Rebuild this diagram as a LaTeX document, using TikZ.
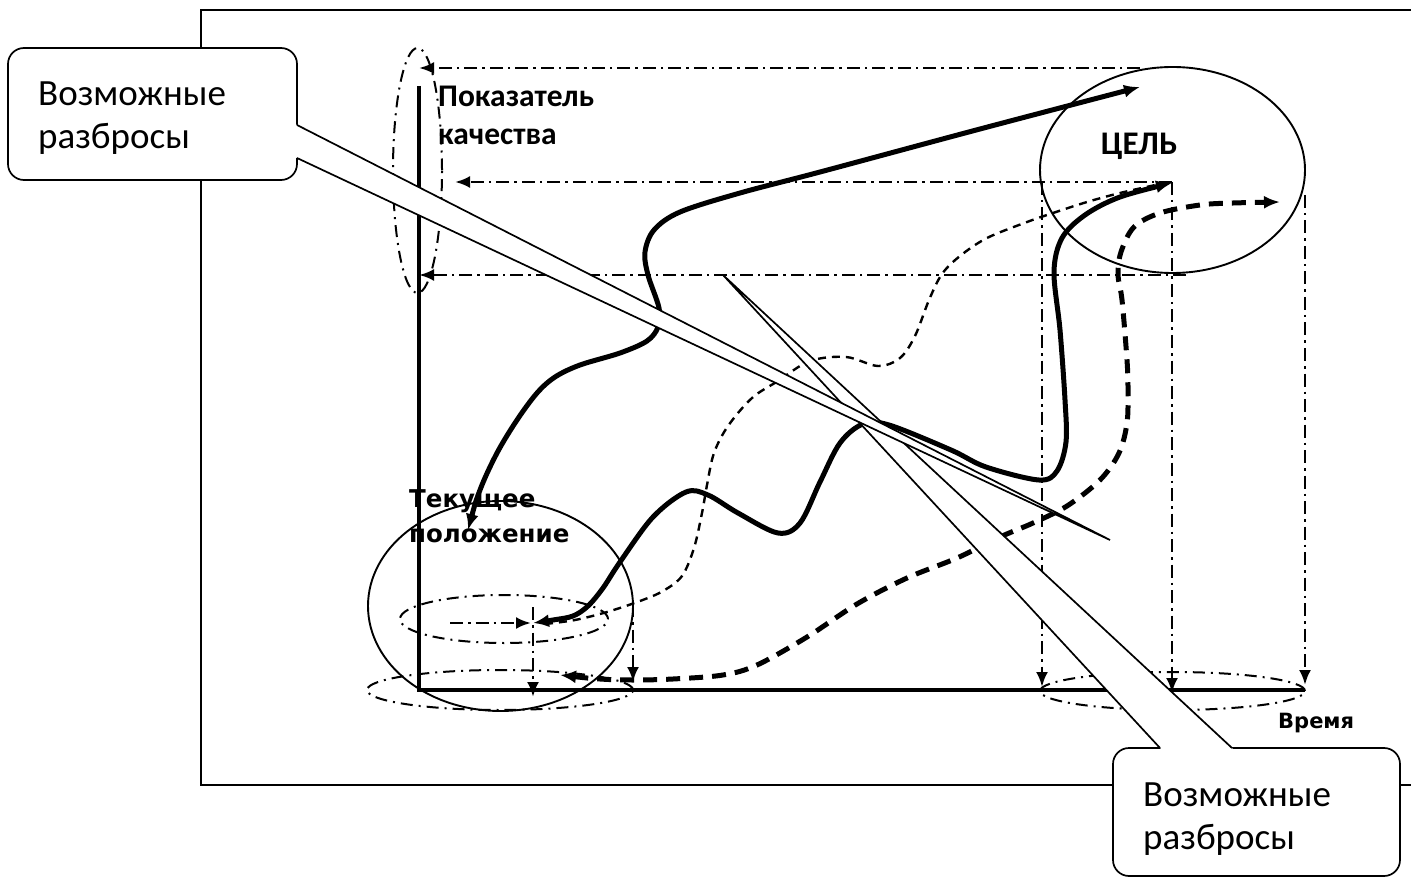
\documentclass[tikz,border=0pt]{standalone}
\usepackage{fontspec}
\newfontfamily\carl{Carlito}
\newfontfamily\djv{DejaVu Sans}
\usetikzlibrary{arrows.meta}
\tikzset{
 frameline/.style={line width=1.6pt},
 axisline/.style={line width=4.6pt},
 ddl/.style={line width=2.8pt, dash pattern=on 13pt off 5pt on 2.5pt off 5pt},
 dde/.style={line width=2pt, dash pattern=on 12pt off 6pt on 2pt off 6pt},
 ell/.style={line width=1.9pt},
 tipend/.style={-{Latex[length=15pt,width=12pt]}},
 tipboth/.style={{Latex[length=16pt,width=13pt]}-{Latex[length=16pt,width=13pt]}},
 thk/.style={line width=5pt},
 thkd/.style={line width=5pt, dash pattern=on 14pt off 9pt},
 thnd/.style={line width=2.4pt, dash pattern=on 8pt off 6pt},
 callout/.style={line width=1.7pt},
 lblb/.style={anchor=base west, inner sep=0pt, font=\carl\bfseries\fontsize{31.5pt}{36pt}\selectfont},
 lblc/.style={anchor=base west, inner sep=0pt, font=\djv\bfseries\fontsize{24.5pt}{30pt}\selectfont},
 lblr/.style={anchor=base west, inner sep=0pt, font=\carl\fontsize{37pt}{44pt}\selectfont},
}
\begin{document}
\begin{tikzpicture}[x=1pt,y=-1pt]
\useasboundingbox (0,0) rectangle (1411,877);
% frame
\draw[frameline] (1412,10) -- (201,10) -- (201,785) -- (1412,785);
% axes
\coordinate (O) at (419,690);
\coordinate (Ytop) at (419,86);
\coordinate (Xend) at (1305,690);
\draw[axisline] (Ytop) -- (O) -- (Xend);
% dash-dot ellipses
\draw[dde] (417.5,170.5) ellipse [x radius=24.5pt, y radius=122.5pt];
\draw[dde] (504,619) ellipse [x radius=104pt, y radius=24pt];
\draw[dde] (500,690) ellipse [x radius=133pt, y radius=20pt];
\draw[dde] (1172.5,691) ellipse [x radius=132.5pt, y radius=19pt];
% dash-dot projection lines
\coordinate (h1r) at (1140,68);  \coordinate (h1l) at (419,68);
\coordinate (h2r) at (1172,182); \coordinate (h2l) at (455,182);
\coordinate (h3r) at (1186,275); \coordinate (h3l) at (419,275);
\draw[ddl,tipend] (h1r) -- (h1l);
\draw[ddl,tipend] (h2r) -- (h2l);
\draw[ddl,tipend] (h3r) -- (h3l);
\draw[ddl,tipend] (1042,182) -- (1042,687);
\draw[ddl,tipend] (h2r) -- (1172,693);
\draw[ddl,tipend] (1305,195) -- (1305,685);
\draw[ddl,tipend] (450,623) -- (531,623);
\draw[ddl,tipend] (533,607) -- (533,697);
\draw[ddl,tipend] (633,604) -- (633,682);
% curves
\draw[thk,tipboth] plot[smooth, tension=0.55] coordinates {(468,530) (480,490) (497,453) (517,420) (537,393) (555,377) (580,365) (620,353) (647,341) (658,327) (659,308) (648,275) (645,252) (654,230) (680,212) (740,193) (820,172) (980,129) (1140,87)};
\draw[thnd] plot[smooth, tension=0.55] coordinates {(545,624) (575,620) (607,612) (640,601) (663,591) (682,576) (694,548) (702,513) (707,485) (714,453) (728,426) (752,398) (778,381) (810,361) (846,357) (878,366) (900,358) (915,336) (929,300) (942,274) (960,256) (987,238) (1027,222) (1053,213) (1087,202) (1120,193) (1160,184)};
\draw[thkd,tipboth] plot[smooth, tension=0.55] coordinates {(560,675) (600,679) (633,680) (673,679) (723,675) (757,665) (807,637) (857,604) (907,578) (957,558) (1000,537) (1033,523) (1067,506) (1100,480) (1119,453) (1127,423) (1128,390) (1127,360) (1122,300) (1118,275) (1121,252) (1134,227) (1160,213) (1200,205) (1233,203) (1280,202)};
\draw[thk,tipboth] plot[smooth, tension=0.55] coordinates {(533,623) (553,620) (573,616) (588,606) (603,588) (620,562) (653,517) (686,492) (708,495) (738,513) (778,533) (800,523) (820,482) (840,443) (863,424) (889,425) (951,450) (986,467) (1039,480) (1057,471) (1066,442) (1065,400) (1060,330) (1054,272) (1062,238) (1085,215) (1120,197) (1172,183)};
% solid ellipses
\draw[ell] (500.5,606) ellipse [x radius=132.5pt, y radius=105pt];
\draw[ell] (1172.5,170) ellipse [x radius=132.5pt, y radius=103pt];
% labels
\node[lblb] (pk1) at (438,107) {Показатель};
\node[lblb] (pk2) at (438,145) {качества};
\node[lblb, anchor=base, font=\carl\bfseries\fontsize{33pt}{38pt}\selectfont] (goal) at (1139,155) {ЦЕЛЬ};
\node[lblc] (cur1) at (409,507) {Текущее};
\node[lblc] (cur2) at (409,542) {положение};
\node[lblc, font=\djv\bfseries\fontsize{21pt}{26pt}\selectfont] (time) at (1278,728) {Время};
% bottom callout
\draw[callout, fill=white, rounded corners=16pt] (1113,748) rectangle (1400,876);
\fill[white] (1161.9,750) -- (723,275) -- (1234,750) -- cycle;
\draw[callout] (1160,748) -- (723,275) -- (1232,748);
\node[lblr] (cb1) at (1143,806) {Возможные};
\node[lblr] (cb2) at (1143,849) {разбросы};
% left callout
\draw[callout, fill=white, rounded corners=16pt] (8,48) rectangle (297,180);
\fill[white] (295,124) -- (1110,540) -- (295,157.06) -- cycle;
\draw[callout] (297,125) -- (1110,540) -- (297,158);
\node[lblr] (ca1) at (38,106) {Возможные};
\node[lblr] (ca2) at (38,149) {разбросы};
\end{tikzpicture}
\end{document}
